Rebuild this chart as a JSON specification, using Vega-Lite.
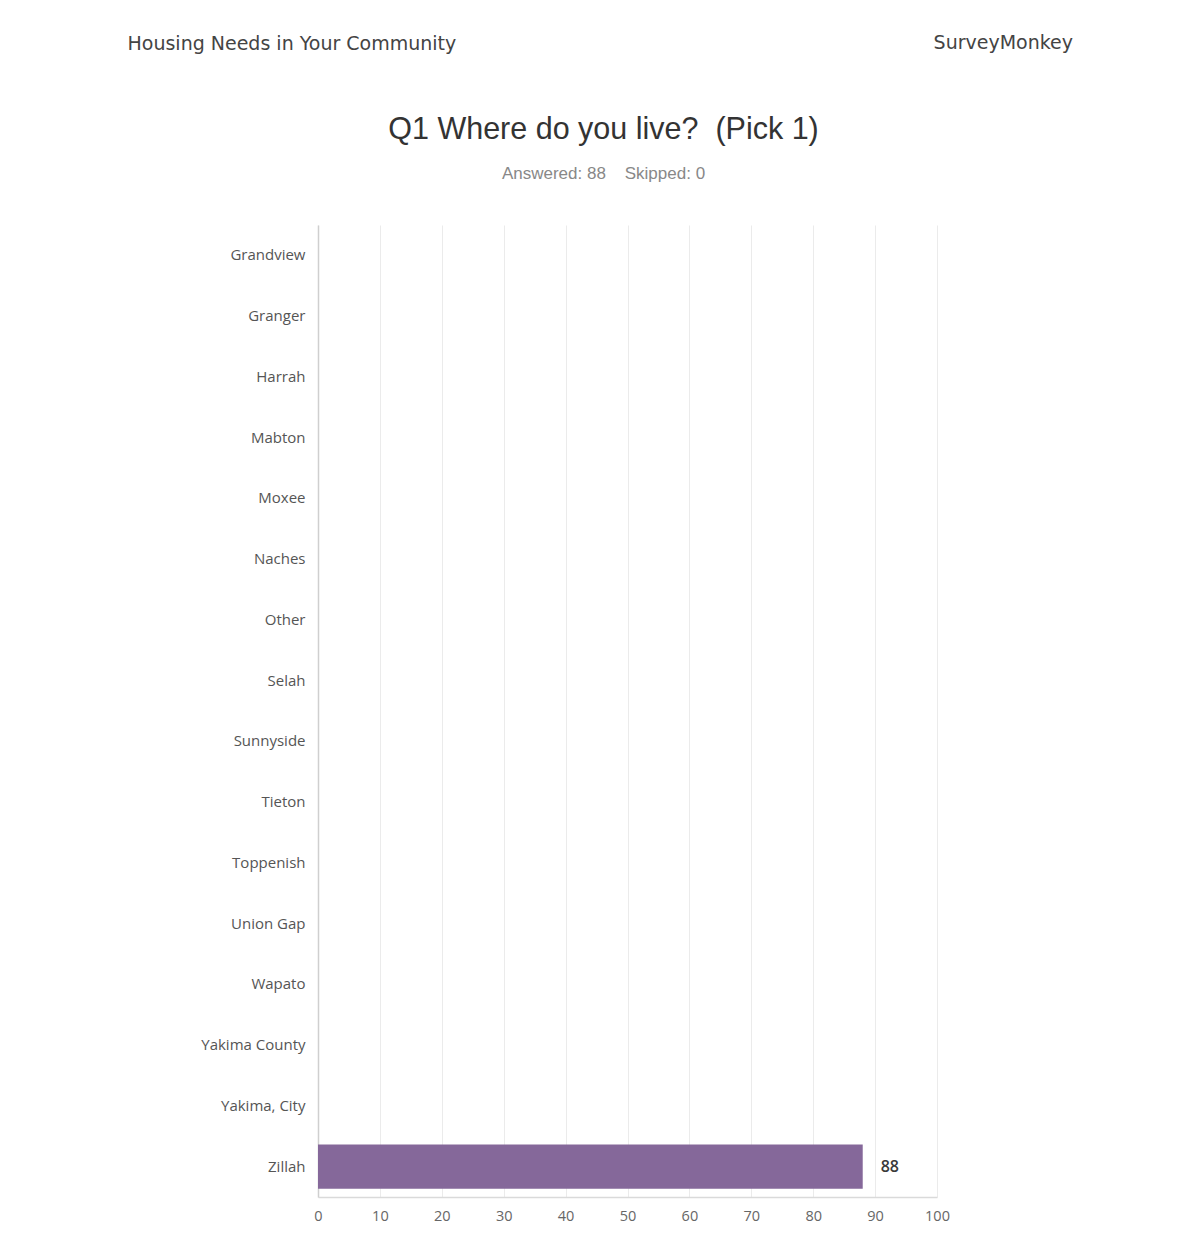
{
  "$schema": "https://vega.github.io/schema/vega-lite/v6.json",
  "background": "white",
  "padding": {"left": 127, "top": 33, "right": 0, "bottom": 0},
  "spacing": 61,
  "config": {"view": {"stroke": null}},
  "vconcat": [
    {
      "width": 755,
      "height": 20,
      "data": {"values": [
        {"left": "Housing Needs in Your Community", "right": "SurveyMonkey"}
      ]},
      "mark": {"type": "text", "align": "right", "baseline": "middle", "font": "DejaVu Sans", "fontSize": 19, "color": "#444444"},
      "encoding": {
        "x": {"value": "width"},
        "y": {"field": "left", "type": "nominal",
          "axis": {"title": null, "ticks": false, "domain": false, "grid": false, "labelAlign": "left", "labelPadding": 191,
            "minExtent": 191, "maxExtent": 260, "labelLimit": 600, "labelFont": "DejaVu Sans", "labelFontSize": 19, "labelColor": "#444444"}},
        "text": {"field": "right"}
      }
    },
    {
      "width": 619,
      "height": 972,
      "title": {
        "text": "Q1 Where do you live? \u00a0(Pick 1)",
        "subtitle": "Answered: 88 \u00a0\u00a0\u00a0Skipped: 0",
        "font": "Liberation Sans", "fontSize": 30.5, "fontWeight": "normal", "color": "#333333",
        "subtitleFont": "Liberation Sans", "subtitleFontSize": 17, "subtitleColor": "#888888",
        "subtitlePadding": 21, "offset": 43, "anchor": "middle", "frame": "group", "dx": -24
      },
      "data": {"values": [
        {"place": "Grandview", "count": 0},
        {"place": "Granger", "count": 0},
        {"place": "Harrah", "count": 0},
        {"place": "Mabton", "count": 0},
        {"place": "Moxee", "count": 0},
        {"place": "Naches", "count": 0},
        {"place": "Other", "count": 0},
        {"place": "Selah", "count": 0},
        {"place": "Sunnyside", "count": 0},
        {"place": "Tieton", "count": 0},
        {"place": "Toppenish", "count": 0},
        {"place": "Union Gap", "count": 0},
        {"place": "Wapato", "count": 0},
        {"place": "Yakima County", "count": 0},
        {"place": "Yakima, City", "count": 0},
        {"place": "Zillah", "count": 88}
      ]},
      "encoding": {
        "x": {"field": "count", "type": "quantitative",
          "scale": {"domain": [0, 100], "nice": false},
          "axis": {"title": null, "values": [0, 10, 20, 30, 40, 50, 60, 70, 80, 90, 100], "grid": true, "gridColor": "#ebebeb", "gridWidth": 1,
            "domainColor": "#dadada", "domainWidth": 1.5, "ticks": false, "labelPadding": 12, "labelFlush": false,
            "labelFont": "Open Sans", "labelFontSize": 14.5, "labelColor": "#666666"}},
        "y": {"field": "place", "type": "nominal", "sort": null,
          "scale": {"paddingInner": 0.27, "paddingOuter": 0.135},
          "axis": {"title": null, "ticks": false, "grid": false, "labelPadding": 13, "labelFont": "Open Sans", "labelFontSize": 15,
            "labelColor": "#555555", "domainColor": "#cfcfcf", "domainWidth": 1.5, "minExtent": 191, "maxExtent": 260, "labelLimit": 250}}
      },
      "layer": [
        {"mark": {"type": "bar", "color": "#85689a"}},
        {"transform": [{"filter": "datum.count > 0"}],
          "mark": {"type": "text", "align": "left", "baseline": "middle", "dx": 18, "font": "Open Sans", "fontSize": 16, "fontWeight": 600, "color": "#3a3a3a"},
          "encoding": {"text": {"field": "count", "type": "quantitative"}}}
      ]
    }
  ]
}
